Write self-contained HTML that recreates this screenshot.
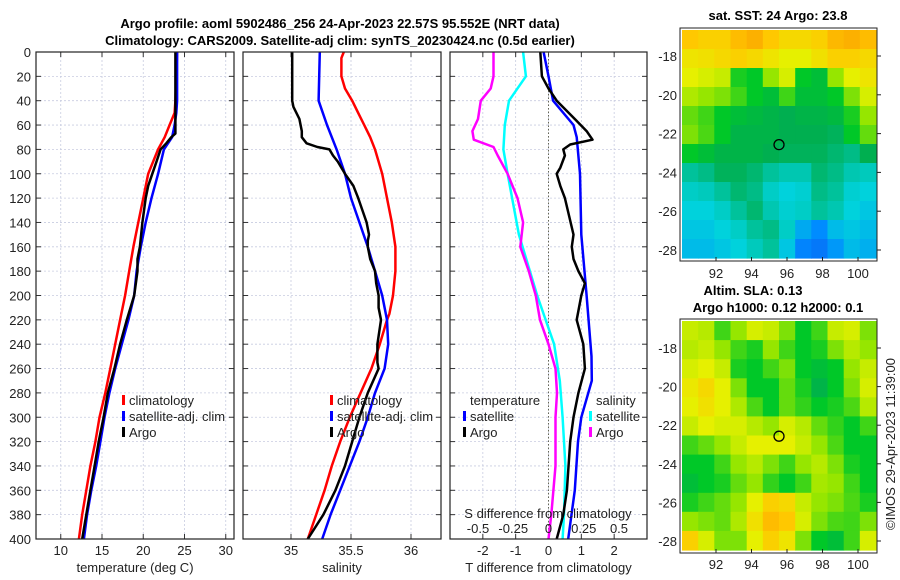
<!DOCTYPE html>
<html><head><meta charset="utf-8"><style>
body{margin:0;background:#fff;}
svg{display:block;font-family:"Liberation Sans","DejaVu Sans",sans-serif;}
</style></head><body>
<svg id="fig" width="900" height="580" viewBox="0 0 900 580"></svg>
<script>
const depths=[0,20,40,50,60,70,80,100,120,140,160,180,200,220,240,260,280,300,320,340,360,380,400];
const tempClim=[24.1,24.0,23.9,23.8,23.2,22.6,21.8,20.6,20.0,19.4,18.8,18.3,17.8,17.2,16.6,16.0,15.4,14.7,14.2,13.6,13.1,12.6,12.2];
const tempSat=[24.1,24.1,24.1,24.0,23.8,23.5,22.5,21.8,21.0,20.3,19.7,19.2,18.9,18.2,17.4,16.6,15.9,15.3,14.8,14.3,13.7,13.2,12.8];
const argoDepths=[0,20,40,60,67,70,75,80,90,100,110,120,140,160,170,180,200,220,240,260,280,300,320,340,360,380,400];
const tempArgo=[23.9,23.9,23.9,23.9,23.9,23.4,22.8,22.1,21.6,21.1,20.6,20.3,19.9,19.6,19.3,19.3,18.9,18.0,17.2,16.5,15.7,15.2,14.6,14.1,13.6,13.1,12.6];
const salDepths=[0,5,20,30,40,50,60,70,80,100,120,140,160,180,200,215,220,240,260,280,300,320,340,360,380,400];
const salClim=[35.44,35.42,35.42,35.45,35.51,35.56,35.61,35.66,35.7,35.76,35.8,35.84,35.87,35.87,35.85,35.82,35.8,35.74,35.67,35.58,35.49,35.41,35.34,35.28,35.21,35.14];
const salSatDepths=[0,40,60,80,100,120,140,160,180,200,220,240,260,280,300,320,340,360,380,400];
const salSat=[35.24,35.23,35.3,35.38,35.45,35.5,35.57,35.64,35.7,35.76,35.8,35.81,35.78,35.7,35.64,35.57,35.49,35.41,35.33,35.26];
const salArgoDepths=[0,40,45,55,65,70,75,78,80,85,90,100,110,120,140,150,155,160,170,180,190,200,210,220,240,255,260,280,300,320,340,360,380,400];
const salArgo=[35.01,35.01,35.02,35.07,35.09,35.09,35.13,35.22,35.32,35.35,35.39,35.45,35.52,35.56,35.63,35.65,35.64,35.64,35.66,35.7,35.71,35.73,35.73,35.75,35.72,35.72,35.73,35.64,35.57,35.51,35.45,35.37,35.27,35.14];
const dTSatDepths=[0,20,40,60,70,100,150,200,250,270,300,320,360,400];
const dTSat=[-0.15,0,0.14,0.76,0.86,0.96,1.0,1.16,1.31,1.32,1.0,0.9,0.8,0.6];
const dTArgoDepths=[0,20,30,40,55,65,72,76,80,85,95,100,110,120,150,160,170,180,190,200,220,240,260,280,300,320,360,380,400];
const dTArgo=[-0.25,-0.2,0,0.25,0.8,1.16,1.34,0.66,0.45,0.5,0.36,0.25,0.36,0.5,0.76,0.71,0.76,0.91,1.11,1.0,0.86,1.06,1.11,0.91,0.76,0.66,0.56,0.45,0.25];
const dSSatDepths=[0,20,40,60,80,100,150,200,240,270,300,340,380,400];
const dSSat=[-0.18,-0.16,-0.28,-0.31,-0.32,-0.29,-0.21,-0.08,0.04,0.08,0.1,0.12,0.11,0.1];
const dSArgoDepths=[0,20,30,40,55,65,72,78,85,100,120,140,160,180,200,220,240,260,280,300,340,380,400];
const dSArgo=[-0.39,-0.39,-0.41,-0.48,-0.5,-0.54,-0.53,-0.39,-0.36,-0.29,-0.22,-0.18,-0.2,-0.14,-0.09,-0.06,0,0.05,0.06,0.05,0.05,0.02,0];
const depthTicks=[0,20,40,60,80,100,120,140,160,180,200,220,240,260,280,300,320,340,360,380,400];
const tempTicks=[10,15,20,25,30];
const salTicks=[35,35.5,36];
const dTTicks=[-2,-1,0,1,2];
const dSTicks=[-0.5,-0.25,0,0.25,0.5];
const dSTickLabels=["-0.5","-0.25","0","0.25","0.5"];
const lonTicks=[92,94,96,98,100];
const latTicks=[-18,-20,-22,-24,-26,-28];
const sstGrid=[
[0.82,0.8,0.8,0.85,0.88,0.82,0.78,0.78,0.8,0.86,0.88,0.85],
[0.75,0.76,0.78,0.8,0.78,0.75,0.72,0.72,0.76,0.8,0.8,0.78],
[0.72,0.7,0.68,0.52,0.5,0.62,0.7,0.5,0.48,0.62,0.72,0.75],
[0.65,0.62,0.6,0.55,0.5,0.48,0.55,0.48,0.48,0.5,0.6,0.7],
[0.58,0.55,0.5,0.48,0.47,0.46,0.45,0.46,0.46,0.47,0.52,0.62],
[0.6,0.56,0.5,0.46,0.46,0.46,0.45,0.45,0.45,0.44,0.5,0.58],
[0.5,0.48,0.46,0.46,0.46,0.45,0.44,0.44,0.44,0.42,0.4,0.45],
[0.38,0.4,0.44,0.44,0.42,0.38,0.36,0.36,0.42,0.4,0.36,0.35],
[0.34,0.35,0.38,0.42,0.4,0.34,0.32,0.33,0.4,0.38,0.33,0.32],
[0.32,0.32,0.34,0.38,0.42,0.36,0.33,0.34,0.38,0.36,0.32,0.3],
[0.3,0.3,0.32,0.34,0.38,0.4,0.34,0.25,0.2,0.28,0.3,0.28],
[0.28,0.28,0.3,0.32,0.35,0.38,0.3,0.18,0.15,0.22,0.28,0.26]];
const slaGrid=[
[0.68,0.66,0.55,0.62,0.7,0.68,0.6,0.5,0.55,0.68,0.7,0.6],
[0.66,0.68,0.62,0.55,0.52,0.62,0.55,0.5,0.52,0.6,0.66,0.62],
[0.7,0.72,0.68,0.52,0.5,0.55,0.6,0.5,0.48,0.5,0.62,0.68],
[0.74,0.78,0.72,0.6,0.5,0.5,0.58,0.52,0.46,0.5,0.6,0.7],
[0.72,0.76,0.72,0.65,0.56,0.5,0.58,0.54,0.5,0.52,0.56,0.66],
[0.68,0.72,0.7,0.7,0.66,0.62,0.7,0.66,0.58,0.54,0.5,0.55],
[0.55,0.58,0.62,0.68,0.72,0.72,0.72,0.68,0.62,0.56,0.5,0.5],
[0.5,0.5,0.55,0.62,0.66,0.6,0.55,0.62,0.66,0.6,0.52,0.5],
[0.48,0.5,0.52,0.58,0.62,0.54,0.5,0.55,0.64,0.62,0.55,0.5],
[0.52,0.55,0.58,0.62,0.72,0.8,0.78,0.68,0.62,0.6,0.56,0.52],
[0.62,0.6,0.58,0.65,0.76,0.85,0.82,0.7,0.6,0.56,0.55,0.6],
[0.8,0.7,0.6,0.6,0.72,0.8,0.75,0.6,0.5,0.48,0.55,0.7]];
const argoLon=95.55, argoLat=-22.57;

const NS="http://www.w3.org/2000/svg";
const svg=document.getElementById('fig');
function el(tag,attrs,parent){const e=document.createElementNS(NS,tag);for(const k in attrs)e.setAttribute(k,attrs[k]);(parent||svg).appendChild(e);return e;}
function txt(s,x,y,attrs,parent){const t=el('text',Object.assign({x:x,y:y,'font-size':13,fill:'#222'},attrs||{}),parent);t.textContent=s;return t;}

const Y0=52,Y1=539;
const yD=d=>Y0+(d/400)*(Y1-Y0);
function panel(name,x0,x1,xmin,xmax){
  const g=el('g',{});
  
  
  const sx=v=>x0+(v-xmin)/(xmax-xmin)*(x1-x0);
  return {g,sx,x0,x1};
}
function frame(p,xticks,xlabels,xtitle){
  const g=p.g;
  depthTicks.forEach(d=>{
    const l=el('line',{x1:p.x0,x2:p.x1,y1:yD(d),y2:yD(d),stroke:'#c8cce0','stroke-width':0.8,'stroke-dasharray':'2,2'},g);
    
    
    el('line',{x1:p.x0,x2:p.x0+5,y1:yD(d),y2:yD(d),stroke:'#333'},g);
    el('line',{x1:p.x1-5,x2:p.x1,y1:yD(d),y2:yD(d),stroke:'#333'},g);
  });
  xticks.forEach((v,i)=>{
    const x=p.sx(v);
    el('line',{x1:x,x2:x,y1:Y0,y2:Y1,stroke:'#c8cce0','stroke-width':0.8,'stroke-dasharray':'2,2'},g);
    el('line',{x1:x,x2:x,y1:Y1,y2:Y1-5,stroke:'#333'},g);
    el('line',{x1:x,x2:x,y1:Y0,y2:Y0+5,stroke:'#333'},g);
    const t=txt(xlabels[i],x,555,{'text-anchor':'middle'},g);
    
    
  });
  const tt=txt(xtitle,(p.x0+p.x1)/2,572,{'text-anchor':'middle'},g);
  
  
}
function line(p,xs,ds,color,name,fx){
  const pts=xs.map((v,i)=>(fx?fx(v):p.sx(v)).toFixed(1)+','+yD(ds[i]).toFixed(1)).join(' ');
  const pl=el('polyline',{points:pts,fill:'none',stroke:color,'stroke-width':2.5,'stroke-linejoin':'round'},p.g);
  
  
}
function border(p){
  const r=el('rect',{x:p.x0,y:Y0,width:p.x1-p.x0,height:Y1-Y0,fill:'none',stroke:'#222','stroke-width':1.2},p.g);
  
  
}
function legendEntry(g,x,y,color,label){
  const m=el('rect',{x:x,y:y-10,width:3,height:10,fill:color},g);
  
  
  const t=txt(label,x+7,y,{},g);
  
  
}

let t1=txt('Argo profile: aoml 5902486_256 24-Apr-2023 22.57S 95.552E (NRT data)',340,28,{'text-anchor':'middle','font-weight':'bold','font-size':13,fill:'#000'});


let t2=txt('Climatology: CARS2009. Satellite-adj clim: synTS_20230424.nc (0.5d earlier)',340,45,{'text-anchor':'middle','font-weight':'bold','font-size':13,fill:'#000'});



depthTicks.forEach(d=>{
  const t=txt(String(d),31,yD(d)+5,{'text-anchor':'end'});
  
  
});

const p1=panel('temperature-panel',36,234,7,31);
frame(p1,tempTicks,tempTicks.map(String),'temperature (deg C)');
line(p1,tempClim,depths,'#f00','temp-climatology-line');
line(p1,tempSat,depths,'#00f','temp-satellite-line');
line(p1,tempArgo,argoDepths,'#000','temp-argo-line');
border(p1);
legendEntry(p1.g,122,405,'#f00','climatology');
legendEntry(p1.g,122,421,'#00f','satellite-adj. clim');
legendEntry(p1.g,122,437,'#000','Argo');

const p2=panel('salinity-panel',243,441,34.6,36.25);
frame(p2,salTicks,['35','35.5','36'],'salinity');
line(p2,salClim,salDepths,'#f00','sal-climatology-line');
line(p2,salSat,salSatDepths,'#00f','sal-satellite-line');
line(p2,salArgo,salArgoDepths,'#000','sal-argo-line');
border(p2);
legendEntry(p2.g,330,405,'#f00','climatology');
legendEntry(p2.g,330,421,'#00f','satellite-adj. clim');
legendEntry(p2.g,330,437,'#000','Argo');

const p3=panel('difference-panel',450,647,-3,3);
frame(p3,dTTicks,dTTicks.map(String),'T difference from climatology');
const zx=p3.sx(0);
el('line',{x1:zx,x2:zx,y1:Y0,y2:Y1,stroke:'#665','stroke-width':1,'stroke-dasharray':'1.5,2'},p3.g);
const sxS=v=>zx+v*141;
line(p3,dSSat,dSSatDepths,'#0ff','dS-satellite-line',sxS);
line(p3,dSArgo,dSArgoDepths,'#f0f','dS-argo-line',sxS);
line(p3,dTSat,dTSatDepths,'#00f','dT-satellite-line');
line(p3,dTArgo,dTArgoDepths,'#000','dT-argo-line');
border(p3);
let lt=txt('temperature',470,405,{},p3.g);


legendEntry(p3.g,463,421,'#00f','satellite');
legendEntry(p3.g,463,437,'#000','Argo');
let ls=txt('salinity',596,405,{},p3.g);


legendEntry(p3.g,589,421,'#0ff','satellite');
legendEntry(p3.g,589,437,'#f0f','Argo');
let sl=txt('S difference from climatology',548,518,{'text-anchor':'middle'},p3.g);


dSTicks.forEach((v,i)=>{
  const t=txt(dSTickLabels[i],sxS(v),533,{'text-anchor':'middle'},p3.g);
  
  
});

function cmap(v){
  const stops=[[0,[20,60,230]],[0.2,[0,140,255]],[0.32,[0,210,220]],[0.45,[0,175,80]],[0.5,[0,200,40]],[0.62,[150,230,0]],[0.72,[230,240,0]],[0.82,[255,200,0]],[0.92,[250,160,0]]];
  if(v<=0)return 'rgb('+stops[0][1]+')';
  for(let i=1;i<stops.length;i++){if(v<=stops[i][0]){const a=stops[i-1],b=stops[i];const f=(v-a[0])/(b[0]-a[0]);return 'rgb('+a[1].map((c,k)=>Math.round(c+(b[1][k]-c)*f)).join(',')+')';}}
  return 'rgb('+stops[stops.length-1][1]+')';
}
function map(name,grid,x0,x1,yTop,yBot,lat18y,lat28y,lonLabelY){
  const g=el('g',{});
  
  
  const lonX=lon=>716+(lon-92)*(858-716)/8;
  const latY=lat=>lat18y+(-18-lat)*(lat28y-lat18y)/10;
  const fx0=x0+2,fx1=x1-1,fy0=yTop+2,fy1=yBot-3;
  const rows=grid.length,cols=grid[0].length;
  const cw=(fx1-fx0)/cols,ch=(fy1-fy0)/rows;
  grid.forEach((row,r)=>row.forEach((v,c)=>{
    const cell=el('rect',{x:(fx0+c*cw).toFixed(1),y:(fy0+r*ch).toFixed(1),width:(cw+0.6).toFixed(1),height:(ch+0.6).toFixed(1),fill:cmap(v)},g);
    
    
  }));
  const fr=el('rect',{x:x0,y:yTop,width:x1-x0,height:yBot-yTop,fill:'none',stroke:'#222','stroke-width':1},g);
  
  
  lonTicks.forEach(l=>{
    el('line',{x1:lonX(l),x2:lonX(l),y1:yBot,y2:yBot-4,stroke:'#222'},g);
    const t=txt(String(l),lonX(l),lonLabelY,{'text-anchor':'middle'},g);
    
    
  });
  latTicks.forEach(l=>{
    el('line',{x1:x1,x2:x1+4,y1:latY(l),y2:latY(l),stroke:'#222'},g);
    const t=txt(String(l),x0-3,latY(l)+5,{'text-anchor':'end'},g);
    
    
  });
  const c=el('circle',{cx:lonX(argoLon),cy:latY(argoLat),r:5,fill:'none',stroke:'#000','stroke-width':1.3},g);
  
  
}
map('sst-map',sstGrid,680,877,28,261,56,250,278);
map('sla-map',slaGrid,680,877,319,553,348,541,569);
let m1=txt('sat. SST: 24 Argo: 23.8',778,20,{'text-anchor':'middle','font-weight':'bold',fill:'#000'});


let m2=txt('Altim. SLA: 0.13',753,295,{'text-anchor':'middle','font-weight':'bold',fill:'#000'});


let m3=txt('Argo h1000: 0.12 h2000: 0.1',778,312,{'text-anchor':'middle','font-weight':'bold',fill:'#000'});


let cr=txt('©IMOS 29-Apr-2023 11:39:00',0,0,{'text-anchor':'middle',transform:'translate(895,444) rotate(-90)'});


</script>
</body></html>
